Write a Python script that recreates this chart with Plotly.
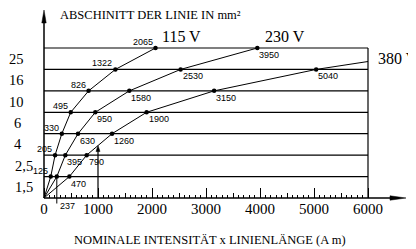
import numpy as np
import plotly.graph_objects as go

# ---------------- data ----------------
section_labels = ["1,5", "2,5", "4", "6", "10", "16", "25"]   # mm²
section_levels = [1, 2, 3, 4, 5, 6, 7]
len_115 = [125, 205, 330, 495, 826, 1322, 2065]
len_230 = [237, 395, 630, 950, 1580, 2530, 3950]
len_380 = [470, 790, 1260, 1900, 3150, 5040]
len_380_tail_x = [6000]          # 380 V line continues to the frame edge
len_380_tail_level = [6.37]
x_tickvals = [0, 1000, 2000, 3000, 4000, 5000, 6000]
x_ticktext = ["0", "1000", "2000", "3000", "4000", "5000", "6000"]
example_x = 1000
x_max = 6000

# ---------------- geometry (page pixels) ----------------
PAGE_W, PAGE_H = 416, 249
BODY = 8                     # default body margin of the html page
W, H = PAGE_W - BODY, PAGE_H - BODY
OX, OY = 44, 198             # page-pixel position of the origin
PX_PER_X = 0.054             # pixels per A·m
PX_PER_LVL = 150 / 7         # pixels per section step
Y_LABEL_CENTER_PX = [23.5, 23.5, 17.5, 17.5, 16, 16, 16]

def X(px):
    return (px - OX) / PX_PER_X

def Y(py):
    return (OY - py) / PX_PER_LVL

xr = [X(BODY), X(PAGE_W)]
yr = [Y(PAGE_H), Y(BODY)]

SERIF = "Liberation Serif, Times New Roman, serif"
SANS = "Liberation Sans Narrow, Arial Narrow, Liberation Sans, Arial, sans-serif"
BLACK = "black"

fig = go.Figure()

# horizontal section lines + right frame
gx, gy = [], []
for lv in section_levels:
    gx += [0, x_max, None]
    gy += [lv, lv, None]
gx += [x_max, x_max]
gy += [0, max(section_levels)]
fig.add_trace(go.Scatter(x=gx, y=gy, mode="lines", line=dict(color=BLACK, width=1.2),
                         hoverinfo="skip", showlegend=False))

def triangle(tip_x, tip_y, dx, dy, length, half_w):
    """filled arrow head in pixel sizes, direction (dx,dy) in screen px (y down)."""
    tpx = OX + tip_x * PX_PER_X
    tpy = OY - tip_y * PX_PER_LVL
    bx, by = tpx - dx * length, tpy - dy * length
    nx, ny = -dy, dx
    pts = [(tpx, tpy), (bx + nx * half_w, by + ny * half_w), (bx - nx * half_w, by - ny * half_w), (tpx, tpy)]
    return [X(p[0]) for p in pts], [Y(p[1]) for p in pts]

# axes
y_top = Y(10)
x_end = X(406)
fig.add_trace(go.Scatter(x=[0, 0], y=[0, y_top - 0.3], mode="lines", line=dict(color=BLACK, width=1.5),
                         hoverinfo="skip", showlegend=False))
fig.add_trace(go.Scatter(x=[0, x_end - 150], y=[0, 0], mode="lines", line=dict(color=BLACK, width=1.5),
                         hoverinfo="skip", showlegend=False))
tx, ty = triangle(0, y_top, 0, -1, 13, 2.2)
fig.add_trace(go.Scatter(x=tx, y=ty, mode="lines", fill="toself", fillcolor=BLACK,
                         line=dict(color=BLACK, width=0.5), hoverinfo="skip", showlegend=False))
tx, ty = triangle(x_end, 0, 1, 0, 16, 2.2)
fig.add_trace(go.Scatter(x=tx, y=ty, mode="lines", fill="toself", fillcolor=BLACK,
                         line=dict(color=BLACK, width=0.5), hoverinfo="skip", showlegend=False))

# example lines
fig.add_trace(go.Scatter(x=[len_230[0], len_230[0]], y=[section_levels[0], Y(203.5)], mode="lines",
                         line=dict(color=BLACK, width=1), hoverinfo="skip", showlegend=False))
ex_level = float(np.interp(example_x, [0] + len_380, [0] + section_levels[:len(len_380)]))
fig.add_trace(go.Scatter(x=[example_x, example_x], y=[0, ex_level - 0.2], mode="lines",
                         line=dict(color=BLACK, width=1.2), hoverinfo="skip", showlegend=False))
tx, ty = triangle(example_x, ex_level, 0, -1, 6, 2)
fig.add_trace(go.Scatter(x=tx, y=ty, mode="lines", fill="toself", fillcolor=BLACK,
                         line=dict(color=BLACK, width=0.5), hoverinfo="skip", showlegend=False))

annotations = []
LABEL_FONT = dict(family=SANS, size=9, color=BLACK)

# curves
def add_curve(xs, levels, above, skip_first=False, tail_x=(), tail_l=()):
    fig.add_trace(go.Scatter(x=[0] + list(xs) + list(tail_x), y=[0] + list(levels) + list(tail_l),
                             mode="lines", line=dict(color=BLACK, width=1),
                             hoverinfo="skip", showlegend=False))
    fig.add_trace(go.Scatter(x=list(xs), y=list(levels), mode="markers",
                             marker=dict(color=BLACK, size=4.5),
                             hoverinfo="skip", showlegend=False, cliponaxis=False))
    for i, (xv, lv) in enumerate(zip(xs, levels)):
        if skip_first and i == 0:
            continue
        if above:
            annotations.append(dict(x=xv, y=lv, xref="x", yref="y", text=str(xv), showarrow=False,
                                    xanchor="right", yanchor="middle", xshift=-1, yshift=6,
                                    font=LABEL_FONT))
        else:
            annotations.append(dict(x=xv, y=lv, xref="x", yref="y", text=str(xv), showarrow=False,
                                    xanchor="left", yanchor="middle", xshift=0, yshift=-7,
                                    font=LABEL_FONT))

add_curve(len_115, section_levels, True)
add_curve(len_230, section_levels, False, skip_first=True)
add_curve(len_380, section_levels[:len(len_380)], False,
          tail_x=len_380_tail_x, tail_l=len_380_tail_level)

# "237" below the axis
annotations.append(dict(x=len_230[0], y=0, xref="x", yref="y", text=str(len_230[0]), showarrow=False,
                        xanchor="left", yanchor="top", xshift=1, yshift=-1, font=LABEL_FONT))
# y labels (in bands)
for lab, lv, cpx in zip(section_labels, section_levels, Y_LABEL_CENTER_PX):
    annotations.append(dict(x=X(cpx), y=lv - 0.5, xref="x", yref="y", text=lab, showarrow=False,
                            xanchor="center", yanchor="middle",
                            font=dict(family=SERIF, size=14.5, color=BLACK)))
# titles
annotations.append(dict(x=X(58), y=Y(14.5), xref="x", yref="y", text="ABSCHINITT DER LINIE IN mm²",
                        showarrow=False, xanchor="left", yanchor="middle",
                        font=dict(family=SERIF, size=12.5, color=BLACK)))
annotations.append(dict(x=X(210), y=Y(239.5), xref="x", yref="y",
                        text="NOMINALE INTENSITÄT x LINIENLÄNGE (A m)",
                        showarrow=False, xanchor="center", yanchor="middle",
                        font=dict(family=SERIF, size=12.5, color=BLACK)))
for txt, px, py in [("115 V", 181.5, 36.5), ("230 V", 284.5, 36.0), ("380 V", 397.5, 58.5)]:
    annotations.append(dict(x=X(px), y=Y(py), xref="x", yref="y", text=txt, showarrow=False,
                            xanchor="center", yanchor="middle",
                            font=dict(family=SERIF, size=16, color=BLACK)))

axis_pos = (PAGE_H - OY) / H
fig.update_layout(
    width=W, height=H,
    margin=dict(l=0, r=0, t=0, b=0, pad=0, autoexpand=False),
    paper_bgcolor="white", plot_bgcolor="white",
    showlegend=False,
    xaxis=dict(range=xr, anchor="free", position=axis_pos, showgrid=False, zeroline=False,
               showline=False, tickmode="array", tickvals=x_tickvals, ticktext=x_ticktext,
               ticks="inside", ticklen=10, tickwidth=1, tickcolor=BLACK, automargin=False,
               tickfont=dict(family=SERIF, size=15, color=BLACK),
               minor=dict(tickmode="array", tickvals=[v for v in range(0, x_max + 1, 100)],
                          ticks="inside", ticklen=3, tickwidth=1, tickcolor=BLACK),
               fixedrange=True),
    xaxis2=dict(range=xr, overlaying="x", anchor="free", position=axis_pos, showgrid=False,
                zeroline=False, showline=False, tickmode="array", automargin=False,
                tickvals=[v for v in range(500, x_max, 1000)], ticks="inside", ticklen=5,
                tickwidth=1, tickcolor=BLACK, showticklabels=False),
    yaxis=dict(range=yr, visible=False, fixedrange=True, automargin=False),
    annotations=annotations,
)
# dummy trace so xaxis2 is drawn
fig.add_trace(go.Scatter(x=[0], y=[0], xaxis="x2", mode="markers", marker=dict(size=0.1, opacity=0),
                         hoverinfo="skip", showlegend=False))

fig.write_html("out.html")
